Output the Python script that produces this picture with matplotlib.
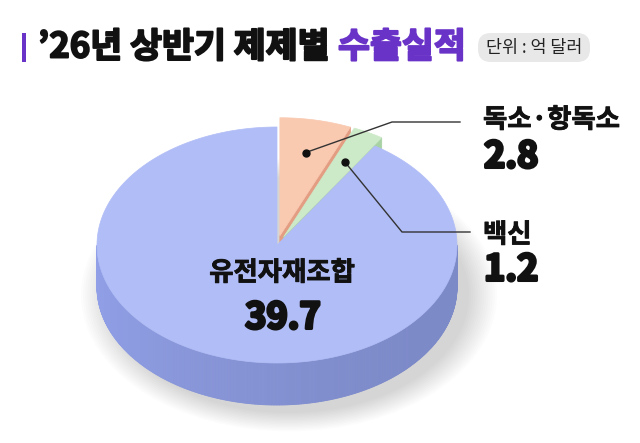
import numpy as np
import matplotlib
matplotlib.use('Agg')
import matplotlib.pyplot as plt
from matplotlib.patches import Polygon, FancyBboxPatch, Ellipse, Rectangle
from matplotlib.collections import PolyCollection
import matplotlib.colors as mcolors
import matplotlib.patheffects as pe

plt.rcParams['font.family'] = ['Noto Sans CJK KR', 'DejaVu Sans']

# ---- data (clockwise from 12 o'clock) ----
categories = ['독소·항독소', '백신', '유전자재조합']
values = [2.8, 1.2, 39.7]
value_labels = ['2.8', '1.2', '39.7']
title_black = '’26년 상반기 제제별 '
title_purple = '수출실적'
unit_text = '단위 : 억 달러'

top_colors = ['#f9c9b0', '#cdeac8', '#b1bdf6']
side_colors = ['#e39d82', '#a8d2a3', '#8795d8']
explode = [0.08, 0.08, 0.0]

PURPLE = '#6a33c8'

fig = plt.figure(figsize=(6.4, 4.43), dpi=100)
ax = fig.add_axes([0, 0, 1, 1])
ax.set_xlim(0, 640)
ax.set_ylim(443, 0)
ax.axis('off')

cx, cy, rx, ry, depth = 277, 245, 180, 118, 42

total = float(np.sum(values))
cum = np.concatenate([[0], np.cumsum(values)])
th_start = 90 - cum[:-1] / total * 360.0   # high angle (ccw)
th_end = 90 - cum[1:] / total * 360.0      # low angle (ccw)


def pt(theta_deg, r=1.0, z=0.0, off=(0.0, 0.0)):
    t = np.radians(theta_deg)
    return (cx + off[0] + r * rx * np.cos(t), cy + off[1] - r * ry * np.sin(t) + z)


def shade(color, f):
    c = np.array(mcolors.to_rgb(color)) * f
    return tuple(np.clip(c, 0, 1))


def heavy(lw, color='#111111'):
    return [pe.withStroke(linewidth=lw, foreground=color)]


# soft shadow
for i in range(14):
    k = 1.0 + i * 0.012
    ax.add_patch(Ellipse((cx + 12, cy + depth + 8), 2 * rx * k, 2 * ry * k,
                         color='#000000', alpha=0.012, lw=0, zorder=0))

side_polys, side_cols, side_keys = [], [], []
offsets = []
for i in range(len(values)):
    lo, hi = th_end[i], th_start[i]
    mid = np.radians((lo + hi) / 2)
    off = (explode[i] * rx * np.cos(mid), -explode[i] * ry * np.sin(mid))
    offsets.append(off)
    # outer wall (front part)
    angs = np.linspace(lo, hi, max(int((hi - lo) * 2), 4))
    for a0, a1 in zip(angs[:-1], angs[1:]):
        am = (a0 + a1) / 2
        if np.sin(np.radians(am)) < 0:
            poly = [pt(a0, off=off), pt(a1, off=off), pt(a1, z=depth, off=off), pt(a0, z=depth, off=off)]
            f = 1.0 + 0.07 * (-np.cos(np.radians(am))) - 0.03 * (-np.sin(np.radians(am)))
            side_polys.append(poly)
            side_cols.append(shade(side_colors[i], f))
            side_keys.append(pt(am, off=off)[1])
    # radial faces
    c_top = pt(0, r=0, off=off)
    c_bot = pt(0, r=0, z=depth, off=off)
    if np.cos(np.radians(lo)) > 1e-6:
        side_polys.append([c_top, pt(lo, off=off), pt(lo, z=depth, off=off), c_bot])
        side_cols.append(shade(side_colors[i], 1.0))
        side_keys.append(c_top[1] - 100)
    if np.cos(np.radians(hi)) < -1e-6:
        side_polys.append([c_top, pt(hi, off=off), pt(hi, z=depth, off=off), c_bot])
        side_cols.append(shade(side_colors[i], 1.0))
        side_keys.append(c_top[1] - 100)

order = np.argsort(side_keys)
pc = PolyCollection([side_polys[j] for j in order],
                    facecolors=[side_cols[j] for j in order],
                    edgecolors=[side_cols[j] for j in order], linewidths=0.6, zorder=2)
ax.add_collection(pc)

# top faces
for i in range(len(values)):
    lo, hi = th_end[i], th_start[i]
    off = offsets[i]
    angs = np.linspace(lo, hi, max(int((hi - lo) * 2), 6))
    poly = [pt(0, r=0, off=off)] + [pt(a, off=off) for a in angs]
    ax.add_patch(Polygon(poly, closed=True, facecolor=top_colors[i],
                         edgecolor=top_colors[i], lw=0.5, zorder=3))

# labels inside big slice
ax.text(282, 273, categories[2], ha='center', va='center', fontsize=19,
        fontweight='bold', color='#111111', zorder=5, path_effects=heavy(0.6))
ax.text(283, 318, value_labels[2], ha='center', va='center', fontsize=26,
        fontweight='bold', color='#111111', zorder=5, path_effects=heavy(2.2))

# leader lines for small slices
elbows = [((392, 122), (460, 122)), ((402, 232), (470, 232))]
label_pos = [(483, 120, 157), (483, 235, 270)]
for i in range(2):
    lo, hi = th_end[i], th_start[i]
    off = offsets[i]
    d = pt((lo + hi) / 2, r=0.72, off=off)
    (ex, ey), (hx, hy) = elbows[i]
    ax.plot([d[0], ex, hx], [d[1], ey, hy], color='#333333', lw=1.0, zorder=6)
    ax.plot(d[0], d[1], 'o', color='#111111', ms=5, zorder=7)
    lx, ly1, ly2 = label_pos[i]
    ax.text(lx, ly1, categories[i], ha='left', va='center', fontsize=19,
            fontweight='bold', color='#111111', path_effects=heavy(0.6))
    ax.text(lx + 1, ly2, value_labels[i], ha='left', va='center', fontsize=26,
            fontweight='bold', color='#111111', path_effects=heavy(2.2))

# title
ax.add_patch(Rectangle((22, 33), 4, 29, color=PURPLE, lw=0))
t1 = ax.text(38, 47, title_black, ha='left', va='center', fontsize=25,
             fontweight='bold', color='#111111', path_effects=heavy(1.4))
fig.canvas.draw()
bb = t1.get_window_extent()
x_end = ax.transData.inverted().transform((bb.x1, bb.y0))[0]
ax.text(x_end, 47, title_purple, ha='left', va='center', fontsize=25,
        fontweight='bold', color=PURPLE, path_effects=heavy(1.4, PURPLE))

ax.add_patch(FancyBboxPatch((478, 33), 112, 29, boxstyle='round,pad=0,rounding_size=13',
                            facecolor='#e8e8e8', edgecolor='none'))
ax.text(534, 47.5, unit_text, ha='center', va='center', fontsize=12.5, color='#222222')

fig.savefig('out.png', dpi=100, facecolor='white')
